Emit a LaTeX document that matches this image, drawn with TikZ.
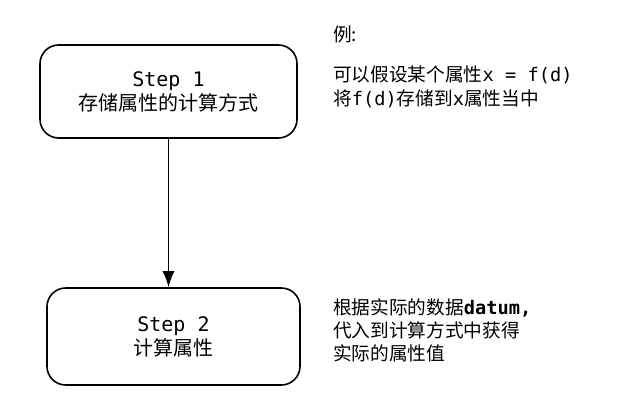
\documentclass[tikz,border=0pt]{standalone}
\usepackage{fontspec}
\newfontfamily\cjk{Noto Sans CJK SC}
\newfontfamily\mono{DejaVu Sans Mono}
\usetikzlibrary{positioning,arrows.meta}
\tikzset{
  stepbox/.style={draw, line width=1.2pt, rounded corners=14pt, align=center,
    font=\fontsize{15}{18}\selectfont\cjk},
  note/.style={anchor=north west, align=left, inner sep=0pt,
    font=\fontsize{14}{17.3}\selectfont\cjk},
}
\begin{document}
\begin{tikzpicture}[x=0.75pt, y=-0.75pt]
		\useasboundingbox (0,0) rectangle (638,409);
		% Steps
		\node[stepbox, minimum width=192.75pt, minimum height=69.75pt] (step1) at (168.5,91.5)
			{{\mono Step 1}\\存储属性的计算方式};
		\node[stepbox, minimum width=189.75pt, minimum height=72.75pt] (step2) at (173.5,336.5)
			{{\mono Step 2}\\计算属性};
		
		% Arrow between steps
		\draw[-{Latex[length=12pt, width=9pt]}, line width=1pt] (step1.south) -- (step1.south |- step2.north);
		
		% Notes
		\node[note] (example) at (333,26) {例:};
		\node[note] (store) at (333,66) {可以假设某个属性{\mono x = f(d)}\\将{\mono f(d)}存储到{\mono x}属性当中};
		\node[note] (compute) at (333,298) {根据实际的数据{\mono\bfseries datum,}\\代入到计算方式中获得\\实际的属性值};
	\end{tikzpicture}
\end{document}
